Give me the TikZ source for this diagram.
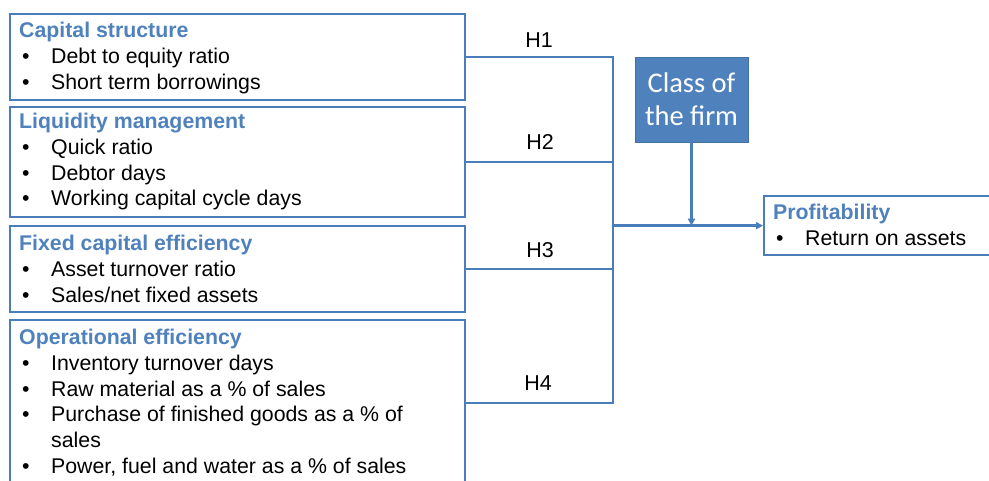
\documentclass[tikz,border=0pt]{standalone}
\usepackage{fontspec}
\setmainfont{Liberation Sans}
\newfontfamily\classfont{Carlito}
\usetikzlibrary{arrows.meta}

\definecolor{frameblue}{HTML}{4A7EBB}
\definecolor{headblue}{HTML}{4F81BD}
\definecolor{classfill}{HTML}{4F81BD}
\definecolor{classedge}{HTML}{41719C}

% bullet with hanging text column
\newcommand{\bul}{\makebox[32pt][l]{\hspace{3pt}\textbullet}}
\newcommand{\head}[1]{{\color{headblue}\bfseries #1}}

\tikzset{
  frame/.style={draw=frameblue, line width=2.3pt, rectangle, anchor=north west,
    inner sep=0pt},
  body/.style={anchor=north west, align=left, inner sep=0pt,
    font=\fontsize{21.3}{25.7}\selectfont},
  link/.style={draw=frameblue, line width=2.3pt},
  hlab/.style={font=\fontsize{21.5}{26}\selectfont, inner sep=0pt},
  classbox/.style={fill=classfill, draw=classedge, line width=0.8pt,
    minimum width=113pt, minimum height=85pt, inner sep=0pt, align=center,
    text=white, font=\classfont\fontsize{28.5}{33}\selectfont},
  tip/.style={-{Triangle[length=7pt,width=7pt]}},
}

\begin{document}
\begin{tikzpicture}[x=1pt, y=-1pt]
  \useasboundingbox (0,0) rectangle (989,481);

  % predictor boxes
  \node[frame, minimum width=455pt, minimum height=86pt]  (cap)  at (9,13)  {};
  \node[frame, minimum width=455pt, minimum height=110pt] (liq)  at (9,106) {};
  \node[frame, minimum width=455pt, minimum height=86pt]  (fix)  at (9,225) {};
  \node[frame, minimum width=455pt, minimum height=166pt] (ops)  at (9,319) {};

  \node[body] (capt) at ([shift={(10pt,-9pt)}]cap.north west)
    {\head{Capital structure}\\
     \bul Debt to equity ratio\\
     \bul Short term borrowings};
  \node[body] (liqt) at ([shift={(10pt,-7pt)}]liq.north west)
    {\head{Liquidity management}\\
     \bul Quick ratio\\
     \bul Debtor days\\
     \bul Working capital cycle days};
  \node[body] (fixt) at ([shift={(10pt,-10pt)}]fix.north west)
    {\head{Fixed capital efficiency}\\
     \bul Asset turnover ratio\\
     \bul Sales/net fixed assets};
  \node[body] (opst) at ([shift={(10pt,-10pt)}]ops.north west)
    {\head{Operational efficiency}\\
     \bul Inventory turnover days\\
     \bul Raw material as a \% of sales\\
     \bul Purchase of finished goods as a \% of\\
     \makebox[32pt]{}sales\\
     \bul Power, fuel and water as a \% of sales};

  % outcome box
  \node[frame, minimum width=260pt, minimum height=59pt] (prof) at (763,195) {};
  \node[body] (proft) at ([shift={(10pt,-9pt)}]prof.north west)
    {\head{Profitability}\\
     \bul Return on assets};

  % moderator
  \node[classbox] (cls) at (691.5,99.5) {Class of\\the firm};

  % junction of the hypothesis lines
  \path (prof.west) ++(-150,0) coordinate (J);

  \draw[link] (cap.east) -| (J);
  \draw[link] (liq.east) -| (J);
  \draw[link] (fix.east) -| (J);
  \draw[link] (ops.east) -| (J);
  \draw[link, tip] (J) -- (prof.west);
  \draw[link, tip] (cls.south) -- (cls.south |- J);

  % hypothesis labels
  \node[hlab] (h1) at (539,40)  {H1};
  \node[hlab] (h2) at (540,142) {H2};
  \node[hlab] (h3) at (540,250) {H3};
  \node[hlab] (h4) at (538,383) {H4};
\end{tikzpicture}
\end{document}
